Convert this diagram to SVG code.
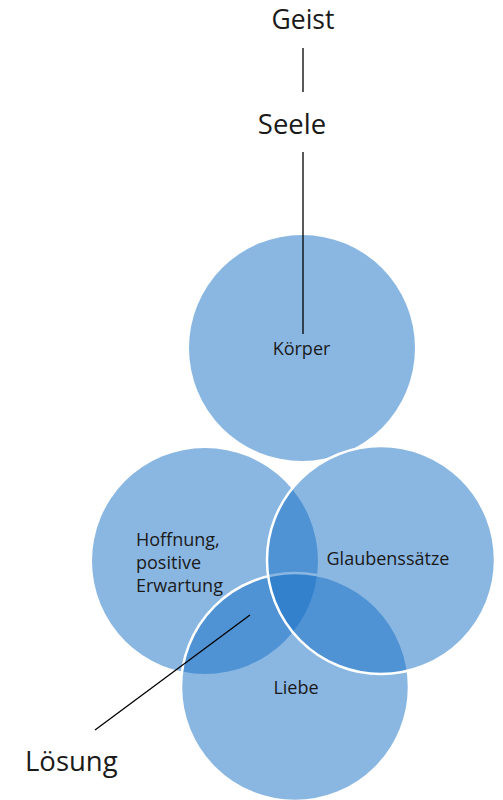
<svg xmlns="http://www.w3.org/2000/svg" width="503" height="800" viewBox="0 0 503 800">
<style>
.c{fill:rgb(21,111,197);fill-opacity:0.5}
.s{stroke:#fff;stroke-width:2.5}
.t{font-family:"Open Sans","Noto Sans","DejaVu Sans",sans-serif;fill:#1a1a1a}
.sm{font-size:18px}
.lg{font-size:27.5px}
.ln{stroke:#000;stroke-width:1.3;fill:none}
</style>
<rect width="503" height="800" fill="#fff"/>
<g id="koerper">
<circle class="c" cx="302" cy="348" r="113"/>
<text class="t sm" x="301.5" y="355" text-anchor="middle">Körper</text>
</g>
<g id="hoffnung">
<circle class="c" cx="205" cy="561" r="113"/>
<text class="t sm" x="136" y="546">Hoffnung,</text>
<text class="t sm" x="136" y="569">positive</text>
<text class="t sm" x="136" y="592">Erwartung</text>
</g>
<g id="liebe">
<circle class="c s" cx="295" cy="687" r="114"/>
<text class="t sm" x="296" y="694" text-anchor="middle">Liebe</text>
</g>
<g id="glaubenssaetze">
<circle class="c s" cx="381" cy="560" r="114"/>
<text class="t sm" x="388" y="565" text-anchor="middle">Glaubenssätze</text>
</g>
<g id="geist"><text class="t" style="font-size:26.5px" x="303" y="29" text-anchor="middle">Geist</text></g>
<g id="seele"><text class="t lg" x="292" y="134" text-anchor="middle">Seele</text></g>
<g id="loesung"><text class="t lg" x="25" y="771">Lösung</text></g>
<g id="connectors">
<line class="ln" x1="303" y1="48" x2="303" y2="92"/>
<line class="ln" x1="303" y1="152" x2="303" y2="334"/>
<line class="ln" x1="95" y1="730" x2="250" y2="615"/>
</g>
</svg>
